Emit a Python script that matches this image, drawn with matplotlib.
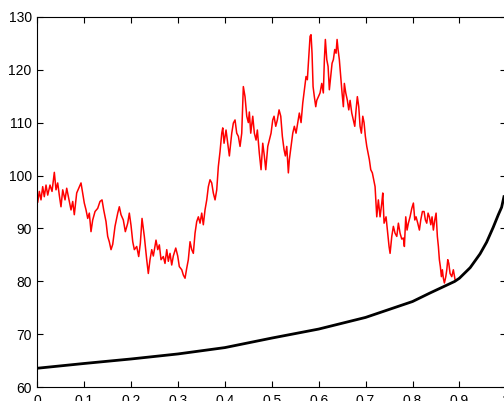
import matplotlib
matplotlib.use("Agg")
import matplotlib.pyplot as plt

plt.rcParams['font.family'] = ['Liberation Sans', 'DejaVu Sans']

# Red price path (time, value)
t_path = [0.001, 0.0043, 0.0079, 0.0115, 0.0149, 0.0186, 0.0222, 0.0271, 0.0314, 0.0363,
          0.0399, 0.0435, 0.0469, 0.0505, 0.0542, 0.0591, 0.0627, 0.0670, 0.0719, 0.0755,
          0.0789, 0.0840, 0.0883, 0.0932, 0.0968, 0.1002, 0.1039, 0.1075, 0.1109, 0.1145,
          0.1181, 0.1231, 0.1288, 0.1337, 0.1380, 0.1416, 0.1465, 0.1501, 0.1535, 0.1572,
          0.1608, 0.1657, 0.1715, 0.1749, 0.1785, 0.1834, 0.1877, 0.1928, 0.1962, 0.1998,
          0.2035, 0.2069, 0.2120, 0.2162, 0.2197, 0.2233, 0.2282, 0.2297, 0.2333, 0.2367,
          0.2403, 0.2440, 0.2474, 0.2531, 0.2568, 0.2602, 0.2638, 0.2687, 0.2723, 0.2760,
          0.2794, 0.2830, 0.2866, 0.2900, 0.2952, 0.2994, 0.3028, 0.3080, 0.3114, 0.3150,
          0.3186, 0.3220, 0.3257, 0.3293, 0.3327, 0.3363, 0.3399, 0.3434, 0.3470, 0.3506,
          0.3540, 0.3576, 0.3613, 0.3647, 0.3683, 0.3719, 0.3753, 0.3790, 0.3826, 0.3860,
          0.3896, 0.3933, 0.3954, 0.3982, 0.4024, 0.4052, 0.4095, 0.4146, 0.4180, 0.4216,
          0.4252, 0.4287, 0.4323, 0.4359, 0.4393, 0.4429, 0.4466, 0.4500, 0.4521, 0.4551,
          0.4594, 0.4628, 0.4664, 0.4692, 0.4734, 0.4771, 0.4807, 0.4841, 0.4871, 0.4914,
          0.4948, 0.4984, 0.5020, 0.5048, 0.5084, 0.5118, 0.5155, 0.5191, 0.5225, 0.5261,
          0.5289, 0.5319, 0.5353, 0.5374, 0.5410, 0.5447, 0.5481, 0.5517, 0.5553, 0.5587,
          0.5624, 0.5660, 0.5694, 0.5730, 0.5758, 0.5788, 0.5816, 0.5837, 0.5858, 0.5880,
          0.5907, 0.5937, 0.5959, 0.5993, 0.6029, 0.6065, 0.6099, 0.6121, 0.6142, 0.6172,
          0.6200, 0.6227, 0.6257, 0.6285, 0.6313, 0.6342, 0.6370, 0.6392, 0.6413, 0.6440,
          0.6470, 0.6498, 0.6526, 0.6547, 0.6577, 0.6611, 0.6641, 0.6669, 0.6705, 0.6739,
          0.6769, 0.6797, 0.6824, 0.6854, 0.6882, 0.6910, 0.6940, 0.6967, 0.6995, 0.7025,
          0.7053, 0.7080, 0.7110, 0.7144, 0.7174, 0.7202, 0.7238, 0.7272, 0.7308, 0.7345,
          0.7366, 0.7394, 0.7436, 0.7464, 0.7500, 0.7522, 0.7558, 0.7592, 0.7628, 0.7665,
          0.7699, 0.7735, 0.7771, 0.7805, 0.7827, 0.7856, 0.7884, 0.7912, 0.7948, 0.7985,
          0.8019, 0.8049, 0.8076, 0.8112, 0.8147, 0.8176, 0.8211, 0.8247, 0.8275, 0.8304,
          0.8332, 0.8360, 0.8390, 0.8417, 0.8445, 0.8475, 0.8503, 0.8530, 0.8552, 0.8573,
          0.8594, 0.8616, 0.8637, 0.8658, 0.8680, 0.8710, 0.8731, 0.8752, 0.8774, 0.8801,
          0.8837, 0.8871, 0.8908]
v_path = [95.0, 97.0, 95.4, 97.9, 96.0, 98.2, 96.3, 98.2, 97.0, 100.6,
          97.3, 98.6, 96.3, 94.1, 97.3, 95.4, 97.6, 95.7, 93.5, 95.1,
          92.6, 96.7, 97.6, 98.6, 96.7, 94.8, 93.5, 91.9, 92.9, 89.4,
          91.6, 93.2, 93.8, 95.1, 95.4, 93.5, 91.3, 88.5, 87.5, 86.0,
          87.0, 90.4, 92.9, 94.1, 92.6, 91.6, 89.4, 91.0, 92.9, 90.6,
          87.5, 86.0, 86.6, 84.7, 87.2, 91.9, 88.5, 87.2, 84.1, 81.5,
          84.1, 86.0, 84.8, 87.8, 86.0, 86.9, 84.1, 84.7, 83.4, 86.0,
          83.8, 85.3, 83.1, 84.8, 86.3, 84.8, 82.8, 82.2, 81.2, 80.6,
          82.5, 84.1, 87.5, 86.0, 85.3, 89.1, 91.3, 92.2, 91.0, 92.9,
          90.7, 93.5, 95.4, 97.9, 99.2, 98.6, 96.7, 95.4, 97.3, 101.7,
          104.5, 108.0, 109.0, 106.1, 108.6, 106.7, 103.7, 108.0, 109.9, 110.5,
          108.0, 107.4, 105.5, 108.0, 116.8, 114.9, 111.2, 110.0, 112.0, 108.0,
          111.2, 108.0, 106.7, 108.6, 104.2, 101.1, 106.1, 103.7, 101.1, 105.5,
          106.7, 108.0, 110.5, 111.2, 109.3, 110.5, 112.4, 111.2, 107.4, 104.9,
          103.7, 105.5, 100.5, 103.0, 105.5, 108.0, 109.3, 108.0, 110.0, 111.8,
          110.0, 113.7, 116.2, 118.7, 118.1, 122.5, 126.3, 126.6, 123.1, 116.8,
          114.9, 113.0, 114.2, 114.9, 115.6, 117.4, 115.6, 121.9, 125.7, 121.9,
          120.6, 116.2, 118.7, 121.2, 121.9, 123.8, 123.1, 125.7, 123.8, 121.9,
          118.7, 115.6, 113.0, 117.4, 115.6, 114.2, 112.4, 114.2, 111.8, 110.5,
          109.3, 112.4, 114.9, 113.0, 109.3, 108.0, 111.2, 110.0, 107.4, 105.5,
          104.2, 103.0, 101.1, 100.5, 99.2, 97.9, 92.2, 95.4, 92.2, 94.8,
          96.7, 91.0, 92.2, 89.7, 86.6, 85.3, 88.5, 90.4, 89.1, 88.5,
          91.0, 89.1, 88.0, 88.2, 86.6, 92.2, 89.7, 91.0, 92.2, 93.8,
          94.8, 91.6, 92.2, 91.0, 89.7, 91.6, 93.2, 93.2, 91.6, 91.0,
          92.9, 92.2, 90.7, 92.2, 89.7, 91.6, 92.9, 88.5, 86.6, 84.1,
          82.8, 80.9, 82.2, 80.6, 79.7, 80.9, 82.2, 84.1, 83.4, 81.5,
          80.9, 82.2, 80.3]

# Black boundary curve
t_bound = [0.0, 0.1, 0.2, 0.3, 0.4, 0.45, 0.5, 0.6, 0.7, 0.8, 0.837, 0.89, 0.9,
           0.923, 0.944, 0.958, 0.972, 0.983, 0.990, 0.995]
v_bound = [63.6, 64.5, 65.35, 66.3, 67.5, 68.4, 69.3, 71.0, 73.2, 76.2, 77.8, 80.0, 80.6,
           82.6, 85.2, 87.4, 90.2, 92.6, 94.0, 96.0]

x_ticks = [0, 0.1, 0.2, 0.3, 0.4, 0.5, 0.6, 0.7, 0.8, 0.9, 1]
x_labels = ['0', '0.1', '0.2', '0.3', '0.4', '0.5', '0.6', '0.7', '0.8', '0.9', '1']
y_ticks = [60, 70, 80, 90, 100, 110, 120, 130]

fig = plt.figure(figsize=(5.04, 4.01), dpi=100)
ax = fig.add_axes([37.3 / 504, (401 - 387.3) / 401, 469 / 504, 370.6 / 401])

ax.plot(t_path, v_path, color='#ff0000', linewidth=1.1)
ax.plot(t_bound, v_bound, color='black', linewidth=2.0)

ax.set_xlim(0, 1)
ax.set_ylim(60, 130)
ax.set_xticks(x_ticks)
ax.set_xticklabels(x_labels)
ax.set_yticks(y_ticks)
ax.tick_params(direction='in', length=4, width=0.8, top=True, right=True,
               labelsize=10, colors='black')
ax.tick_params(axis='y', pad=4)
ax.tick_params(axis='x', pad=5)
for s in ax.spines.values():
    s.set_linewidth(0.8)
    s.set_color('black')

fig.savefig('out.png', dpi=100)
